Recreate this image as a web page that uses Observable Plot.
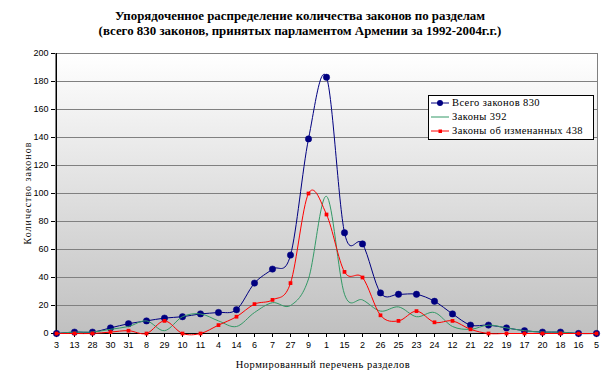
<!DOCTYPE html>
<html><head><meta charset="utf-8">
<script src="https://cdn.jsdelivr.net/npm/d3@7"></script>
<script src="https://cdn.jsdelivr.net/npm/@observablehq/plot@0.6"></script>
<style>
body{margin:0;background:#fff;}
#wrap{position:relative;width:611px;height:377px;overflow:hidden;}
#title{position:absolute;top:9px;left:0;width:600px;text-align:center;font-family:"Liberation Serif";font-weight:bold;font-size:12.9px;line-height:15px;color:#000;}
#ytitle{position:absolute;left:27px;top:193px;transform:translate(-50%,-50%) rotate(-90deg);white-space:nowrap;font-family:"Liberation Serif";font-size:10px;letter-spacing:1px;}
#xtitle{position:absolute;left:323px;top:364px;transform:translate(-50%,-50%);white-space:nowrap;font-family:"Liberation Serif";font-size:10.5px;letter-spacing:0.5px;}
#legend{position:absolute;left:428px;top:95px;width:164px;height:43px;border:1px solid #000;background:#fff;font-family:"Liberation Serif";font-size:10.5px;}
#legend div{height:14px;line-height:14px;display:flex;align-items:center;white-space:nowrap;}
#legend span{font-family:"Liberation Serif";letter-spacing:0.4px;}
#legend svg{margin-right:1px;flex:none;}
</style></head>
<body>
<div id="wrap">
<div id="chart"></div>
<div id="title">Упорядоченное распределение количества законов по разделам<br>(всего 830 законов, принятых парламентом Армении за 1992-2004г.г.)</div>
<div id="ytitle">Количество законов</div>
<div id="xtitle">Нормированный перечень разделов</div>
<div id="legend"></div>
</div>
<script>
const categories = ["3","13","28","30","31","8","29","10","11","4","14","6","7","27","9","1","15","2","26","25","23","24","12","21","22","19","17","20","18","16","5"];
const totalLaws = [0,1,1,4,7,9,11,12,14,15,17,36,46,56,139,183,72,64,29,28,28,23,14,6,6,4,2,1,1,0,0];
const laws392   = [0,1,1,3,5,9,2,12,14,9,5,15,22,20,39,98,28,24,16,19,12,15,5,3,6,4,2,1,1,0,0];
const amended   = [0,0,0,1,2,0,9,0,0,6,12,21,24,36,100,85,44,40,13,9,16,8,9,3,0,0,0,0,0,0,0];
const yTicks = [0,20,40,60,80,100,120,140,160,180,200];
const seriesNames = ["Всего законов 830","Законы 392","Законы об изменанных 438"];

const rows = categories.map((c,i)=>({cat:c,total:totalLaws[i],laws:laws392[i],amend:amended[i]}));

const chart = Plot.plot({
  width: 611, height: 377,
  marginLeft: 55, marginRight: 14, marginTop: 53, marginBottom: 44,
  style: {fontFamily: "Liberation Sans", fontSize: "9px", color: "#000", background: "transparent"},
  x: {type: "point", domain: categories, padding: 0},
  y: {domain: [0, 200]},
  marks: [
    Plot.frame({fill: "url(#bg)", stroke: "#808080"}),
    Plot.ruleY(yTicks.filter(d => d > 0), {stroke: "#808080"}),
    Plot.ruleX([categories[0]], {stroke: "#000"}),
    Plot.ruleY([0], {stroke: "#000"}),
    Plot.axisY({ticks: yTicks, tickSize: 4, tickPadding: 3, label: null}),
    Plot.axisX({tickSize: 4, tickPadding: 4, label: null}),
    Plot.line(rows, {x: "cat", y: "total", stroke: "#000080", strokeWidth: 1, curve: "cardinal"}),
    Plot.dot(rows, {x: "cat", y: "total", r: 3.2, fill: "#000080", stroke: "#000080", strokeWidth: 0.5}),
    Plot.line(rows, {x: "cat", y: "laws", stroke: "#339966", strokeWidth: 1, curve: "cardinal"}),
    Plot.line(rows, {x: "cat", y: "amend", stroke: "#ff0000", strokeWidth: 1, curve: "cardinal"}),
    Plot.dot(rows, {x: "cat", y: "amend", r: 2.1, symbol: "square", fill: "#ff0000", stroke: "none"})
  ]
});
const svg = d3.select(chart);
const grad = svg.insert("defs", ":first-child").append("linearGradient")
  .attr("id", "bg").attr("x1", 0).attr("y1", 0).attr("x2", 0).attr("y2", 1);
grad.append("stop").attr("offset", "0%").attr("stop-color", "#ffffff");
grad.append("stop").attr("offset", "100%").attr("stop-color", "#c0c0c0");
document.getElementById("chart").appendChild(chart);

// legend
const leg = d3.select("#legend");
const legendItems = [
  {name: seriesNames[0], color: "#000080", marker: "circle"},
  {name: seriesNames[1], color: "#339966", marker: null},
  {name: seriesNames[2], color: "#ff0000", marker: "square"}
];
legendItems.forEach(it => {
  const row = leg.append("div");
  const s = row.append("svg").attr("width", 22).attr("height", 8);
  s.append("line").attr("x1", 2).attr("x2", 20).attr("y1", 4).attr("y2", 4).attr("stroke", it.color);
  if (it.marker === "circle") s.append("circle").attr("cx", 11).attr("cy", 4).attr("r", 3).attr("fill", it.color);
  if (it.marker === "square") s.append("rect").attr("x", 9.5).attr("y", 2.5).attr("width", 3.5).attr("height", 3.5).attr("fill", it.color);
  row.append("span").text(it.name);
});
</script>
</body></html>
